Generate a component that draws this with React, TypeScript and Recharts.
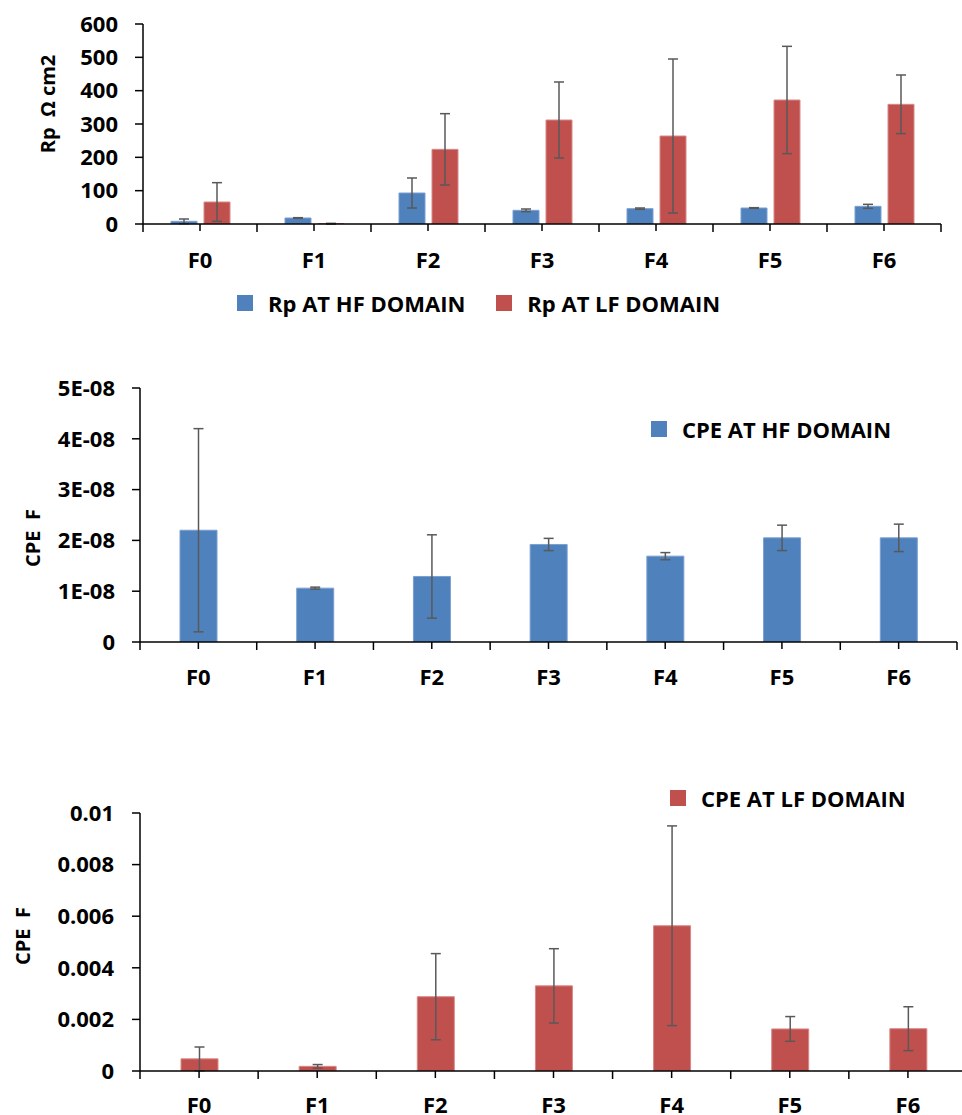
import { Bar, BarChart, ErrorBar, Legend, XAxis, YAxis } from "recharts";

const categories = ["F0", "F1", "F2", "F3", "F4", "F5", "F6"];

// Rp (ohm cm2)
const rpHf = [8, 18, 93, 41, 46, 48, 53];
const rpHfErr = [7, 1, 45, 4, 2, 1, 6];
const rpLf = [66, 1, 224, 312, 264, 372, 359];
const rpLfErr = [58, 1, 107, 114, 231, 161, 88];

// CPE at HF (F)
const cpeHf = [2.2e-8, 1.06e-8, 1.29e-8, 1.92e-8, 1.69e-8, 2.05e-8, 2.05e-8];
const cpeHfErr = [2.0e-8, 0.02e-8, 0.82e-8, 0.12e-8, 0.07e-8, 0.25e-8, 0.27e-8];

// CPE at LF (F)
const cpeLf = [0.00047, 0.00018, 0.00288, 0.0033, 0.00563, 0.00163, 0.00164];
const cpeLfErr = [0.00046, 0.00007, 0.00167, 0.00144, 0.00387, 0.00048, 0.00085];

const rpTicks = [0, 100, 200, 300, 400, 500, 600];
const hfTicks = [0, 1e-8, 2e-8, 3e-8, 4e-8, 5e-8];
const lfTicks = [0, 0.002, 0.004, 0.006, 0.008, 0.01];

const rpData = categories.map((name, i) => ({
	name,
	hf: rpHf[i],
	hfErr: rpHfErr[i],
	lf: rpLf[i],
	lfErr: rpLfErr[i],
}));
const hfData = categories.map((name, i) => ({ name, v: cpeHf[i], err: cpeHfErr[i] }));
const lfData = categories.map((name, i) => ({ name, v: cpeLf[i], err: cpeLfErr[i] }));

const BLUE = "#4F81BD";
const RED = "#C0504D";
const ERR = "#595959";
const FONT = "'Open Sans', sans-serif";

const tickStyle = { fill: "#000", fontSize: 22, fontWeight: 700, fontFamily: FONT };

const makeXTick = (band: number, gap: number) => (props: any) => {
	const { x, y, payload } = props;
	const isLast = payload.value === categories[categories.length - 1];
	return (
		<g>
			<line x1={x} x2={x} y1={y} y2={y + 7} stroke="#000" strokeWidth={1.5} />
			<line x1={x - band / 2} x2={x - band / 2} y1={y} y2={y + 8} stroke="#000" strokeWidth={1.5} />
			{isLast && <line x1={x + band / 2} x2={x + band / 2} y1={y} y2={y + 8} stroke="#000" strokeWidth={1.5} />}
			<text x={x} y={y + gap} dy="0.71em" textAnchor="middle" {...tickStyle}>
				{payload.value}
			</text>
		</g>
	);
};

const makeYLabel = (text: string, x: number, y: number) => () => (
	<text
		x={x}
		y={y}
		transform={`rotate(-90 ${x} ${y})`}
		textAnchor="middle"
		dominantBaseline="central"
		style={{ whiteSpace: "pre" }}
		fill="#000"
		fontSize={20}
		fontWeight={700}
		fontFamily={FONT}
	>
		{text}
	</text>
);

const legendContent = (gapBetween: number) => (props: any) => (
	<div style={{ display: "flex", alignItems: "center", fontFamily: FONT, fontWeight: 700, fontSize: 22, color: "#000" }}>
		{props.payload.map((p: any, i: number) => (
			<div key={i} style={{ display: "flex", alignItems: "center", marginLeft: i ? gapBetween : 0 }}>
				<div style={{ width: 16, height: 16, background: p.color }} />
				<span style={{ marginLeft: 15, lineHeight: "22px", whiteSpace: "nowrap" }}>{p.value}</span>
			</div>
		))}
	</div>
);

const axisProps = { stroke: "#000", strokeWidth: 1.5 };

const fmtHf = (v: number) => (v === 0 ? "0" : `${Math.round(v * 1e8)}E-08`);

const App = () => {
	return (
		<div style={{ position: "absolute", left: 0, top: 0, width: 962, height: 1115, overflow: "hidden", background: "#fff" }}>
			<div style={{ position: "absolute", left: 0, top: 0 }}>
				<BarChart width={962} height={330} data={rpData} margin={{ top: 24, right: 21, left: 0, bottom: 66 }} barSize={26} barGap={7}>
					<XAxis dataKey="name" height={40} axisLine={axisProps} tickLine={false} tickSize={0} tickMargin={0} tick={makeXTick(114, 28)} interval={0} />
					<YAxis
						width={143}
						domain={[0, 600]}
						ticks={rpTicks}
						allowDataOverflow
						axisLine={axisProps}
						tickLine={axisProps}
						tickSize={8}
						tickMargin={17}
						tick={tickStyle}
						label={makeYLabel("Rp  Ω cm2", 47, 104)}
					/>
					<Legend
						layout="horizontal"
						verticalAlign="middle"
						align="center"
						wrapperStyle={{ top: 292, left: 237, width: "auto" }}
						content={legendContent(31)}
					/>
					<Bar dataKey="hf" name="Rp AT HF DOMAIN" fill={BLUE} stroke="#7a9fd0" strokeWidth={1} isAnimationActive={false}>
						<ErrorBar dataKey="hfErr" width={5} stroke={ERR} strokeWidth={1.5} direction="y" />
					</Bar>
					<Bar dataKey="lf" name="Rp AT LF DOMAIN" fill={RED} stroke="#d88886" strokeWidth={1} isAnimationActive={false}>
						<ErrorBar dataKey="lfErr" width={5} stroke={ERR} strokeWidth={1.5} direction="y" />
					</Bar>
				</BarChart>
			</div>
			<div style={{ position: "absolute", left: 0, top: 340 }}>
				<BarChart width={962} height={360} data={hfData} margin={{ top: 48, right: 5, left: 0, bottom: 18 }} barSize={37}>
					<XAxis dataKey="name" height={40} axisLine={axisProps} tickLine={false} tickSize={0} tickMargin={0} tick={makeXTick(116.71, 27)} interval={0} />
					<YAxis
						width={140}
						domain={[0, 5e-8]}
						ticks={hfTicks}
						allowDataOverflow
						tickFormatter={fmtHf}
						axisLine={axisProps}
						tickLine={axisProps}
						tickSize={8}
						tickMargin={17}
						tick={tickStyle}
						label={makeYLabel("CPE  F", 32, 198)}
					/>
					<Legend
						layout="horizontal"
						verticalAlign="middle"
						align="center"
						wrapperStyle={{ top: 78, left: 651, width: "auto" }}
						content={legendContent(31)}
					/>
					<Bar dataKey="v" name="CPE AT HF DOMAIN" fill={BLUE} stroke="#7a9fd0" strokeWidth={1} isAnimationActive={false}>
						<ErrorBar dataKey="err" width={5} stroke={ERR} strokeWidth={1.5} direction="y" />
					</Bar>
				</BarChart>
			</div>
			<div style={{ position: "absolute", left: 0, top: 770 }}>
				<BarChart width={967} height={345} data={lfData} margin={{ top: 43, right: 0, left: 0, bottom: 4 }} barSize={37}>
					<XAxis dataKey="name" height={40} axisLine={axisProps} tickLine={false} tickSize={0} tickMargin={0} tick={makeXTick(118.14, 26)} interval={0} />
					<YAxis
						width={140}
						domain={[0, 0.01]}
						ticks={lfTicks}
						allowDataOverflow
						tickFormatter={(v: number) => String(v)}
						axisLine={axisProps}
						tickLine={axisProps}
						tickSize={8}
						tickMargin={18}
						tick={tickStyle}
						label={makeYLabel("CPE  F", 22, 166)}
					/>
					<Legend
						layout="horizontal"
						verticalAlign="middle"
						align="center"
						wrapperStyle={{ top: 17, left: 670, width: "auto" }}
						content={legendContent(31)}
					/>
					<Bar dataKey="v" name="CPE AT LF DOMAIN" fill={RED} stroke="#d88886" strokeWidth={1} isAnimationActive={false}>
						<ErrorBar dataKey="err" width={5} stroke={ERR} strokeWidth={1.5} direction="y" />
					</Bar>
				</BarChart>
			</div>
		</div>
	);
};

export default App;
